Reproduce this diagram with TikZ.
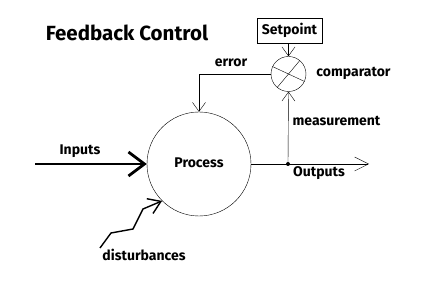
\documentclass[tikz,border=0pt]{standalone}
\usepackage{fontspec}
\setmainfont{Fira Sans}
\usetikzlibrary{arrows.meta}

\begin{document}
\begin{tikzpicture}[x=1pt,y=-1pt,
  label/.style={font=\bfseries\fontsize{14}{16}\selectfont},
  barb/.style={-{Straight Barb[length=9pt,width=13pt]}},
  bigbarb/.style={-{Straight Barb[length=16pt,width=24pt]}, line width=2.8pt}]
\useasboundingbox (0,0) rectangle (424,288);

% ---------- Bloecke ----------
\node[font=\bfseries\fontsize{20.5}{22}\selectfont] (title) at (127,33) {Feedback Control};
\node[draw, circle, minimum size=104pt, inner sep=0pt] (proc) at (199,164) {};
\node[label] (proctext) at (199,163) {Process};
\node[draw, circle, minimum size=35pt, inner sep=0pt] (comp) at (288.5,74) {};
\node[draw, rectangle, minimum width=65pt, minimum height=25pt, inner sep=1pt, label] (setpt) at (289.5,30.5) {Setpoint};

% Kreuz im Vergleicher
\draw (comp.155) -- (comp.-25);
\draw (comp.50) -- (comp.230);

% ---------- Verbindungen ----------
\coordinate (tap) at (288,164);
\coordinate (out) at (369,164);
\coordinate (in) at (35,164);
\coordinate (dist) at (100,248);

\draw[barb] (comp.north |- setpt.south) -- (comp.north);
\draw[barb] (comp.west) -| (proc.north);
\draw (proc.east) -- (tap);
\draw[-{Straight Barb[length=14pt,width=14pt]}] (tap) -- (out);
\draw[barb] (tap) -- (comp.south);
\fill (tap) circle (2);
\draw[bigbarb] (in) -- (proc.west);
\draw[-{Straight Barb[length=12pt,width=16pt]}, line width=1.4pt] (dist) -- (111,233) -- (133,229) -- (143,209) -- (proc.225);

% ---------- Beschriftungen ----------
\node[label] (errtext) at (231,63) {error};
\node[label] (comptext) at (353.5,73) {comparator};
\node[label] (meastext) at (336.5,121) {measurement};
\node[label] (outtext) at (319,173) {Outputs};
\node[label] (intext) at (80,151) {Inputs};
\node[label] (disttext) at (144,255) {disturbances};
\end{tikzpicture}
\end{document}
